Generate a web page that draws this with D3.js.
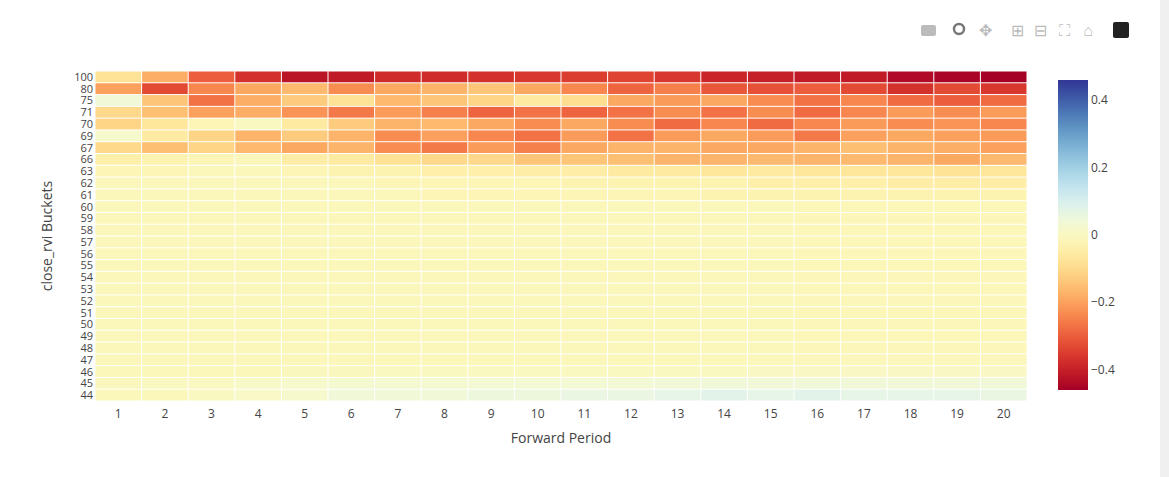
<!DOCTYPE html><html><head><meta charset="utf-8">
<script src="https://cdn.jsdelivr.net/npm/d3@7"></script>
<style>body{margin:0;background:#fff;font-family:"Open Sans",sans-serif}</style></head><body>
<svg id="c" width="1169" height="477"></svg>
<script>
const periods=d3.range(1,21);
const buckets=[44,45,46,47,48,49,50,51,52,53,54,55,56,57,58,59,60,61,62,63,66,67,69,70,71,75,80,100];
const r100=[-0.08,-0.18,-0.3,-0.37,-0.42,-0.41,-0.38,-0.38,-0.37,-0.36,-0.35,-0.34,-0.36,-0.39,-0.4,-0.41,-0.41,-0.44,-0.45,-0.46];
const r80=[-0.2,-0.33,-0.24,-0.19,-0.16,-0.23,-0.19,-0.17,-0.14,-0.19,-0.24,-0.29,-0.25,-0.31,-0.32,-0.3,-0.33,-0.37,-0.33,-0.36];
const r75=[0.04,-0.14,-0.27,-0.18,-0.13,-0.08,-0.16,-0.14,-0.11,-0.06,-0.09,-0.19,-0.21,-0.19,-0.23,-0.27,-0.24,-0.28,-0.3,-0.28];
const r71=[-0.1,-0.15,-0.2,-0.18,-0.22,-0.26,-0.21,-0.25,-0.29,-0.27,-0.29,-0.27,-0.23,-0.27,-0.23,-0.28,-0.24,-0.21,-0.23,-0.21];
const r70=[-0.11,-0.07,-0.02,0.0,-0.06,-0.13,-0.17,-0.16,-0.19,-0.23,-0.19,-0.23,-0.28,-0.24,-0.28,-0.24,-0.21,-0.23,-0.22,-0.24];
const r69=[0.02,-0.06,-0.11,-0.17,-0.13,-0.17,-0.23,-0.2,-0.24,-0.27,-0.21,-0.27,-0.21,-0.19,-0.21,-0.26,-0.2,-0.19,-0.2,-0.21];
const r67=[-0.1,-0.15,-0.11,-0.16,-0.19,-0.17,-0.23,-0.26,-0.21,-0.25,-0.19,-0.17,-0.17,-0.19,-0.19,-0.17,-0.15,-0.17,-0.18,-0.2];
const r66=[-0.04,-0.03,-0.02,-0.01,-0.05,-0.06,-0.08,-0.1,-0.1,-0.14,-0.14,-0.15,-0.17,-0.17,-0.16,-0.17,-0.16,-0.17,-0.19,-0.16];
const r63=[-0.02,-0.02,-0.01,-0.01,-0.02,-0.03,-0.03,-0.04,-0.04,-0.05,-0.05,-0.06,-0.06,-0.07,-0.06,-0.07,-0.07,-0.07,-0.08,-0.07];
const r62=[-0.01,-0.01,-0.01,-0.01,-0.01,-0.01,-0.02,-0.02,-0.02,-0.02,-0.03,-0.03,-0.03,-0.03,-0.04,-0.04,-0.04,-0.05,-0.05,-0.05];
const r61=[-0.01,-0.01,-0.01,-0.01,-0.01,-0.01,-0.01,-0.02,-0.02,-0.02,-0.02,-0.02,-0.02,-0.03,-0.03,-0.03,-0.03,-0.03,-0.03,-0.03];
const rMid=[-0.01,-0.01,-0.01,-0.01,-0.01,-0.01,-0.01,-0.01,-0.01,-0.01,-0.01,-0.01,-0.01,-0.01,-0.01,-0.015,-0.015,-0.015,-0.015,-0.015];
const r47=[-0.01,-0.01,-0.01,-0.01,-0.01,-0.01,-0.01,-0.01,-0.01,-0.01,-0.01,-0.01,-0.01,-0.01,-0.01,-0.01,-0.01,-0.01,-0.01,-0.01];
const r46=[-0.01,-0.01,-0.01,-0.01,-0.005,-0.005,0.0,0.0,0.0,0.0,0.0,0.0,0.0,0.0,0.005,0.005,0.005,0.005,0.005,0.005];
const r45=[-0.005,0.0,0.0,0.01,0.02,0.025,0.025,0.025,0.03,0.03,0.03,0.035,0.04,0.04,0.04,0.04,0.04,0.04,0.04,0.04];
const r44=[-0.01,-0.01,0.0,0.01,0.02,0.04,0.04,0.04,0.05,0.05,0.06,0.06,0.07,0.08,0.07,0.08,0.07,0.07,0.07,0.06];
const rows={100:r100,80:r80,75:r75,71:r71,70:r70,69:r69,67:r67,66:r66,63:r63,62:r62,61:r61,47:r47,46:r46,45:r45,44:r44};
const zRange=[-0.46,0.46];
const cbTicks=[-0.4,-0.2,0,0.2,0.4];

const svg=d3.select("#c");
const L=95,R=1027,T=71,B=401;
const x=d3.scaleBand().domain(periods).range([L,R]);
const y=d3.scaleBand().domain(buckets).range([B,T]);
const col=v=>d3.interpolateRdYlBu((v-zRange[0])/(zRange[1]-zRange[0]));
const cells=[];
buckets.forEach(b=>{const r=rows[b]||rMid;periods.forEach((p,i)=>cells.push({b,p,v:r[i]}));});
svg.append("g").selectAll("rect").data(cells).join("rect")
 .attr("x",d=>x(d.p)+0.5).attr("y",d=>y(d.b)+0.5)
 .attr("width",x.bandwidth()-1).attr("height",y.bandwidth()-1).attr("fill",d=>col(d.v));
const tc="#444";
svg.append("g").selectAll("text").data(periods).join("text").attr("x",d=>x(d)+x.bandwidth()/2).attr("y",B+17)
 .attr("text-anchor","middle").attr("font-size",12).attr("fill",tc).text(d=>d);
svg.append("g").selectAll("text").data(buckets).join("text").attr("x",L-2).attr("y",d=>y(d)+y.bandwidth()/2+4)
 .attr("text-anchor","end").attr("font-size",11).attr("fill",tc).text(d=>d);
svg.append("text").attr("x",(L+R)/2).attr("y",443).attr("text-anchor","middle").attr("font-size",14).attr("fill",tc).text("Forward Period");
svg.append("text").attr("transform","translate(52,236) rotate(-90)").attr("text-anchor","middle").attr("font-size",14).attr("fill",tc).text("close_rvi Buckets");
const cy=d3.scaleLinear().domain(zRange).range([390,80]);
const defs=svg.append("defs");
const g=defs.append("linearGradient").attr("id","g").attr("x1",0).attr("x2",0).attr("y1",1).attr("y2",0);
d3.range(0,1.001,0.05).forEach(t=>g.append("stop").attr("offset",t).attr("stop-color",d3.interpolateRdYlBu(t)));
svg.append("rect").attr("x",1058).attr("y",80).attr("width",30).attr("height",310).attr("fill","url(#g)");
svg.append("g").selectAll("text").data(cbTicks).join("text").attr("x",1091).attr("y",d=>cy(d)+4)
 .attr("font-size",12).attr("fill",tc).text(d=>d===0?"0":d3.format(".1f")(d).replace("-","−"));
const mb=svg.append("g").attr("fill","#bbb");
mb.append("rect").attr("x",921).attr("y",25).attr("width",15).attr("height",11).attr("rx",2);
mb.append("circle").attr("cx",959).attr("cy",29).attr("r",5).attr("fill","none").attr("stroke","#777").attr("stroke-width",2.5);
const sym=["✥","⊞","⊟","⛶","⌂"],sx=[985,1017,1040,1064,1088];
mb.selectAll("text").data(sym).join("text").attr("x",(d,i)=>sx[i]).attr("y",36).attr("text-anchor","middle").attr("font-size",16).text(d=>d);
svg.append("rect").attr("x",1113).attr("y",22).attr("width",16).attr("height",16).attr("rx",2).attr("fill","#222");
svg.append("rect").attr("x",1160).attr("y",0).attr("width",9).attr("height",477).attr("fill","#f0f0f0");
</script></body></html>
